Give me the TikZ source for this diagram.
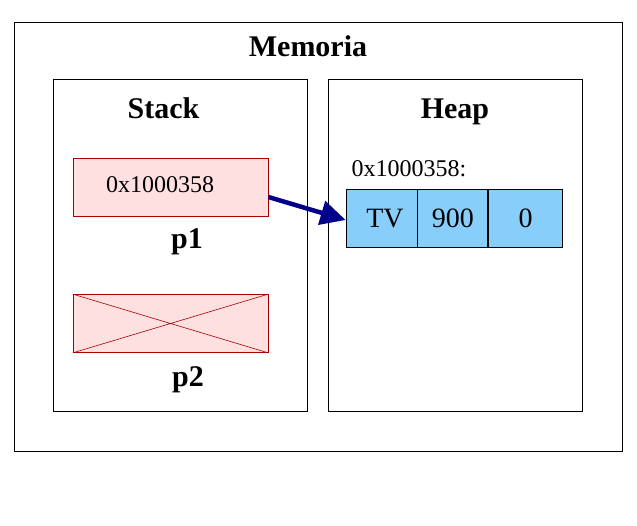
\documentclass[tikz,border=0pt]{standalone}
\usepackage{fontspec}
\setmainfont{Liberation Serif}
\usetikzlibrary{arrows.meta,positioning}
\definecolor{ptrpink}{RGB}{255,224,224}
\definecolor{ptrred}{RGB}{170,0,0}
\definecolor{cellblue}{RGB}{135,206,250}
\definecolor{ptrnavy}{RGB}{0,0,139}
\tikzset{
  region/.style={rectangle, draw=black, line width=0.8pt, inner sep=0pt},
  ptrbox/.style={rectangle, draw=ptrred, fill=ptrpink, line width=0.8pt,
                 minimum width=195pt, minimum height=58pt, inner sep=0pt},
  cell/.style={rectangle, draw=black, fill=cellblue, line width=0.8pt,
               minimum height=58pt, inner sep=0pt,
               font=\fontsize{28}{30}\selectfont},
  title/.style={anchor=base, font=\fontsize{30}{32}\selectfont\bfseries},
  addr/.style={anchor=base, font=\fontsize{24}{26}\selectfont},
  ptr/.style={-{Triangle[length=25pt,width=24pt]}, line width=4.5pt, ptrnavy},
}

\begin{document}
\begin{tikzpicture}[x=1pt,y=-1pt]
  \useasboundingbox (0,0) rectangle (637,526);
  % memory regions
  \node[region, minimum width=608pt, minimum height=429pt] (mem) at (318,236.5) {};
  \node[region, minimum width=254pt, minimum height=332pt] (stack) at (180,245) {};
  \node[region, minimum width=254pt, minimum height=332pt] (heap) at (455,245) {};
  \node[title] (memtitle) at (308,57) {Memoria};
  \node[title] (stacktitle) at (163.5,119) {Stack};
  \node[title] (heaptitle) at (455,119) {Heap};
  % stack pointers
  \node[ptrbox] (p1) at (170.5,187) {};
  \node[addr] (p1addr) at (160,193) {0x1000358};
  \node[title] (p1name) at (187,249) {p1};
  \node[ptrbox] (p2) at (170.5,323.5) {};
  \draw[ptrred, line width=0.6pt] (p2.north west) -- (p2.south east)
                                  (p2.south west) -- (p2.north east);
  \node[title] (p2name) at (188,386) {p2};
  % heap object
  \node[addr] (heapaddr) at (409,177) {0x1000358:};
  \node[cell, minimum width=71pt, text depth=0pt, inner xsep=0pt] (tv) at (381.5,218) {\hspace{7pt}TV};
  \node[cell, minimum width=70pt, right=0pt of tv] (price) {900};
  \node[cell, minimum width=74pt, right=0pt of price] (zero) {0};
  % pointer
  \draw[ptr] ([yshift=-10pt]p1.east) -- ([yshift=-2pt]tv.west);
\end{tikzpicture}
\end{document}
